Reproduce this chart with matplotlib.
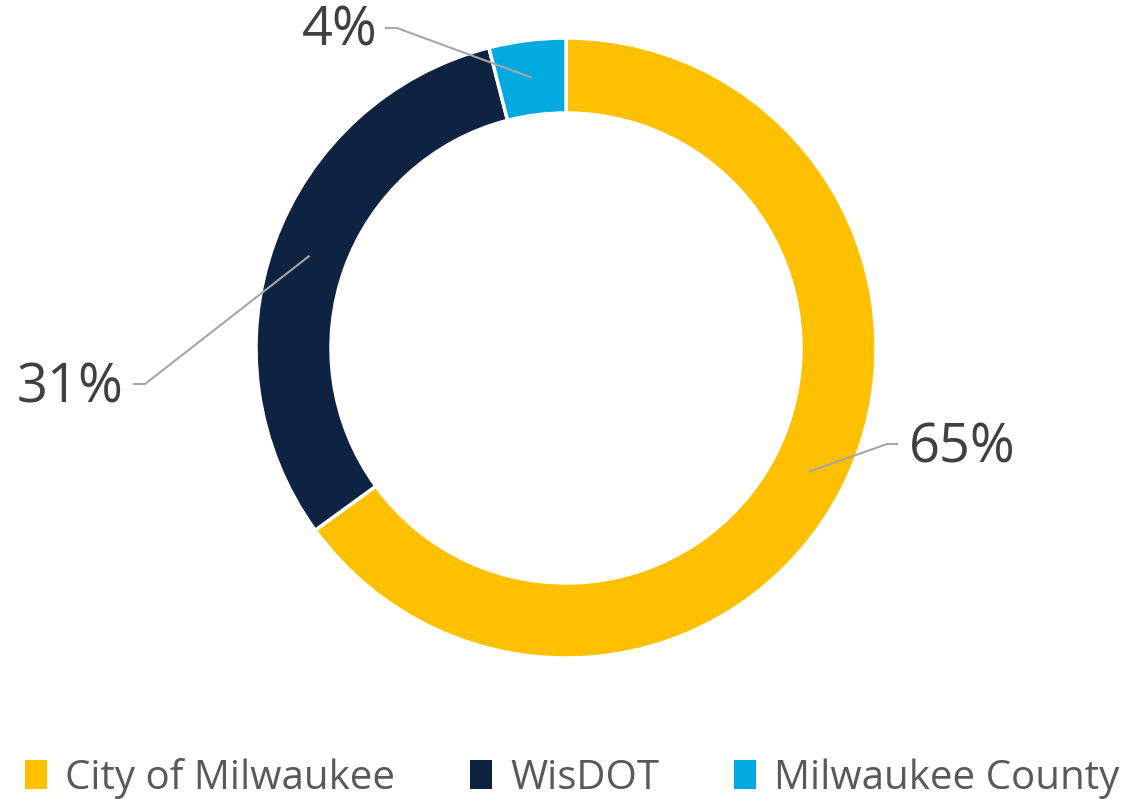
import numpy as np
import matplotlib.pyplot as plt
from matplotlib.patches import Patch
from matplotlib import font_manager

categories = ['City of Milwaukee', 'WisDOT', 'Milwaukee County']
shares = [65, 31, 4]
colors = ['#FFC000', '#0E2341', '#00A9E0']

names = {f.name for f in font_manager.fontManager.ttflist}
label_font = 'Open Sans' if 'Open Sans' in names else 'DejaVu Sans'
legend_font = 'Liberation Sans Narrow' if 'Liberation Sans Narrow' in names else label_font

W, H = 1133, 799
fig = plt.figure(figsize=(W / 100, H / 100), dpi=100)
ax = fig.add_axes([0, 0, 1, 1])

cx, cy = 566, H - 348
r_out, ring = 310, 75
wedges, _ = ax.pie(shares, center=(cx, cy), radius=r_out, startangle=90,
                   counterclock=False, colors=colors,
                   wedgeprops=dict(width=ring, edgecolor='white', linewidth=2.5))
ax.set_xlim(0, W)
ax.set_ylim(0, H)
ax.set_aspect('equal')
ax.axis('off')

# label text positions (pixels from top-left) and leader elbow / stub
label_pos = [(962, 448), (70, 388), (340, 31)]
elbows = [((887, 444), (898, 444)), ((145, 384), (133, 384)), ((397, 28), (385, 28))]

r_mid = r_out - ring / 2
for w, s, (lx, ly), (el, st) in zip(wedges, shares, label_pos, elbows):
    ang = np.deg2rad((w.theta1 + w.theta2) / 2)
    axp = cx + r_mid * np.cos(ang)
    ayp = cy + r_mid * np.sin(ang)
    ax.plot([axp, el[0], st[0]], [ayp, H - el[1], H - st[1]],
            color='#A6A6A6', lw=1.5, solid_capstyle='butt')
    ax.text(lx, H - ly, f'{s}%', ha='center', va='center', fontsize=39,
            color='#404040', family=label_font)

handles = [Patch(facecolor=c, edgecolor='none') for c in colors]
leg = ax.legend(handles, categories, loc='lower center', bbox_to_anchor=(0.505, -0.045),
                ncol=3, frameon=False, handlelength=0.55, handleheight=0.75,
                handletextpad=0.45, columnspacing=1.85,
                prop={'family': legend_font, 'size': 29})
for t in leg.get_texts():
    t.set_color('#595959')

fig.savefig('out.png', dpi=100)
